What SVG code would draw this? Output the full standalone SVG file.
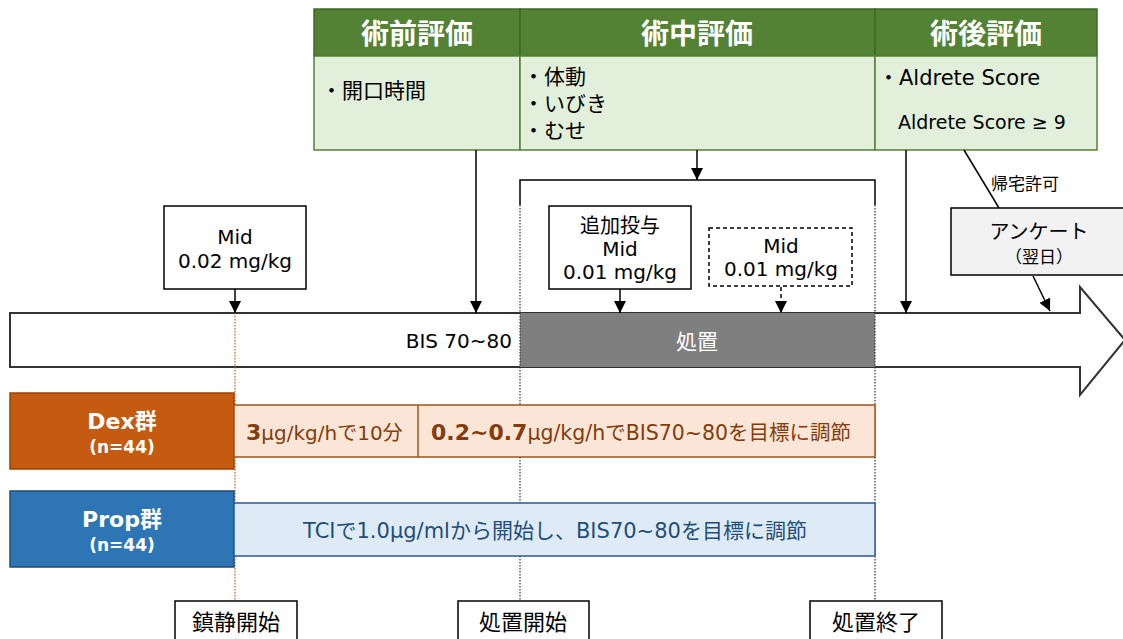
<svg xmlns="http://www.w3.org/2000/svg" width="1123" height="639" viewBox="0 0 1123 639">
<defs>
<marker id="arr" markerWidth="12" markerHeight="12" refX="10" refY="5" orient="auto" markerUnits="userSpaceOnUse" viewBox="0 0 10 10">
<path d="M0,0 L10,5 L0,10 Z" fill="#000"/>
</marker>
</defs>
<style>
text{font-family:"DejaVu Sans","Noto Sans CJK JP",sans-serif;}
.hd{fill:#548235;stroke:#3E6B25;stroke-width:1.5;}
.bd{fill:#E2EFDA;stroke:#548235;stroke-width:1.5;}
.ht{fill:#fff;font-size:28px;font-weight:bold;text-anchor:middle;}
.bt{fill:#000;font-size:21px;}
.box{fill:#fff;stroke:#000;stroke-width:1.5;}
.c{text-anchor:middle;}
.t20{font-size:20px;fill:#000;}
.ln{stroke:#000;stroke-width:1.5;fill:none;}
.dot{stroke:#333;stroke-width:1.2;stroke-dasharray:1.5 1.5;fill:none;}
.lbl{font-size:22px;fill:#000;text-anchor:middle;}
</style>
<rect width="1123" height="639" fill="#fff"/>

<g id="table">
<rect class="hd" x="314" y="9" width="206" height="47"/>
<rect class="hd" x="520" y="9" width="355" height="47"/>
<rect class="hd" x="875" y="9" width="222" height="47"/>
<rect class="bd" x="314" y="56" width="206" height="94"/>
<rect class="bd" x="520" y="56" width="355" height="94"/>
<rect class="bd" x="875" y="56" width="222" height="94"/>
<text class="ht" x="417" y="44">術前評価</text>
<text class="ht" x="697" y="44">術中評価</text>
<text class="ht" x="986" y="44">術後評価</text>
<text class="bt" x="321" y="98">・開口時間</text>
<text class="bt" x="523" y="84">・体動</text>
<text class="bt" x="523" y="111">・いびき</text>
<text class="bt" x="523" y="138">・むせ</text>
<text class="bt" x="878" y="85" font-size="21">・Aldrete Score</text>
<text x="898" y="129" font-size="19" fill="#000">Aldrete Score ≥ 9</text>
</g>

<g id="timeline">
<path d="M10,313 H1080 V287 L1125,340 L1080,395 V367 H10 Z" fill="#fff" stroke="#333" stroke-width="2"/>
<rect x="520" y="313" width="355" height="54" fill="#7F7F7F"/>
<text x="697" y="349" class="c" font-size="21" fill="#fff">処置</text>
<text x="512" y="348" font-size="20" fill="#000" text-anchor="end">BIS 70~80</text>
</g>

<g id="connectors">
<line class="ln" x1="476" y1="150" x2="476" y2="313" marker-end="url(#arr)"/>
<line class="ln" x1="697" y1="150" x2="697" y2="180" marker-end="url(#arr)"/>
<path class="ln" d="M520,205 V180 H875 V205"/>
<line class="ln" x1="906" y1="150" x2="906" y2="313" marker-end="url(#arr)"/>
<line class="ln" x1="964" y1="150" x2="999" y2="208" stroke-width="1.2"/>
<line class="ln" x1="1033" y1="276" x2="1050" y2="311" marker-end="url(#arr)"/>
<line class="ln" x1="235" y1="289" x2="235" y2="313" marker-end="url(#arr)"/>
<line class="ln" x1="620" y1="289" x2="620" y2="313" marker-end="url(#arr)"/>
<line class="ln" x1="781" y1="287" x2="781" y2="313" stroke-dasharray="4 3" marker-end="url(#arr)"/>
<line class="dot" x1="520" y1="205" x2="520" y2="600"/>
<line class="dot" x1="875" y1="205" x2="875" y2="600"/>
<line x1="235" y1="313" x2="235" y2="600" stroke="#C55A11" stroke-width="1.2" stroke-dasharray="1.5 1.5"/>
<text x="991" y="190" font-size="17" fill="#000">帰宅許可</text>
</g>

<g id="mid1">
<rect class="box" x="164" y="206" width="142" height="83"/>
<text class="t20 c" x="235" y="244">Mid</text>
<text class="t20 c" x="235" y="268">0.02 mg/kg</text>
</g>
<g id="mid2">
<rect class="box" x="549" y="206" width="142" height="83"/>
<text class="t20 c" x="620" y="233">追加投与</text>
<text class="t20 c" x="620" y="256">Mid</text>
<text class="t20 c" x="620" y="279">0.01 mg/kg</text>
</g>
<g id="mid3">
<rect class="box" x="709" y="228" width="143" height="58" stroke-dasharray="4 3"/>
<text class="t20 c" x="781" y="253">Mid</text>
<text class="t20 c" x="781" y="276">0.01 mg/kg</text>
</g>
<g id="anketo">
<rect x="951" y="208" width="180" height="67" fill="#F2F2F2" stroke="#000" stroke-width="1.5"/>
<text class="c" x="1039" y="239" font-size="20" fill="#000">アンケート</text>
<text class="c" x="1039" y="263" font-size="17" fill="#000">（翌日）</text>
</g>

<g id="dex">
<rect x="10" y="393" width="224" height="76" fill="#C55A11" stroke="#9C4309" stroke-width="1.5"/>
<text class="c" x="122" y="429" font-size="22" font-weight="bold" fill="#fff">Dex群</text>
<text class="c" x="122" y="453" font-size="17" font-weight="bold" fill="#fff">(n=44)</text>
<rect x="234" y="405" width="641" height="52" fill="#FBE5D6" stroke="#A0521A" stroke-width="1.5"/>
<line x1="418" y1="405" x2="418" y2="457" stroke="#A0521A" stroke-width="1.5"/>
<text x="246" y="440" font-size="20" fill="#843C0C"><tspan font-weight="bold" font-size="22">3</tspan>μg/kg/hで10分</text>
<text x="431" y="440" font-size="20.5" fill="#843C0C"><tspan font-weight="bold" font-size="22">0.2~0.7</tspan>μg/kg/hでBIS70~80を目標に調節</text>
</g>

<g id="prop">
<rect x="10" y="491" width="224" height="76" fill="#2E75B6" stroke="#1F4E79" stroke-width="1.5"/>
<text class="c" x="122" y="527" font-size="22" font-weight="bold" fill="#fff">Prop群</text>
<text class="c" x="122" y="551" font-size="17" font-weight="bold" fill="#fff">(n=44)</text>
<rect x="234" y="503" width="641" height="53" fill="#DEEBF7" stroke="#2F5597" stroke-width="1.5"/>
<text class="c" x="555" y="538" font-size="21" fill="#1F4E79">TCIで1.0μg/mlから開始し、BIS70~80を目標に調節</text>
</g>

<g id="start">
<rect class="box" x="175" y="601" width="122" height="45"/>
<text class="lbl" x="236" y="630">鎮静開始</text>
</g>
<g id="tstart">
<rect class="box" x="458" y="601" width="131" height="45"/>
<text class="lbl" x="523" y="630">処置開始</text>
</g>
<g id="tend">
<rect class="box" x="810" y="601" width="132" height="45"/>
<text class="lbl" x="876" y="630">処置終了</text>
</g>
</svg>
